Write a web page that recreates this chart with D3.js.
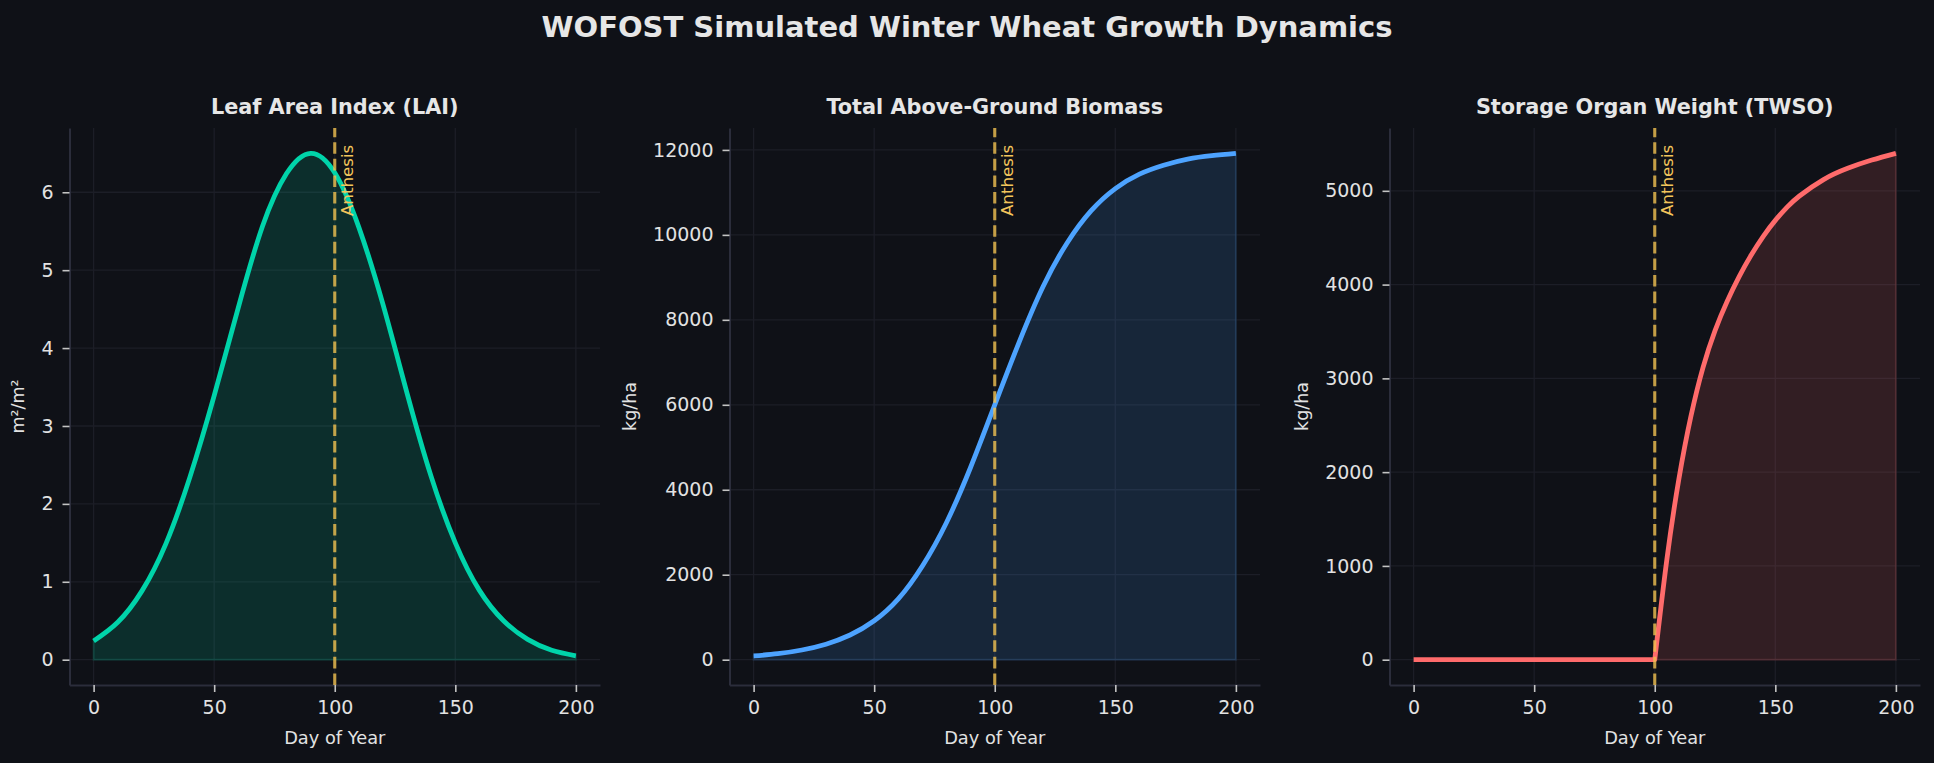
<!DOCTYPE html>
<html>
<head>
<meta charset="utf-8">
<script src="https://cdn.jsdelivr.net/npm/d3@7"></script>
<style>
  html, body { margin: 0; padding: 0; background: #0f1117; }
  svg { display: block; }
</style>
</head>
<body>
<svg id="chart" width="1934" height="763"></svg>
<script>
// ---------------- data ----------------
const days = [0, 10, 20, 30, 40, 50, 60, 70, 80, 90, 100, 110, 120, 130, 140, 150, 160, 170, 180, 190, 200];
const laiValues = [0.24, 0.48, 0.88, 1.49, 2.35, 3.39, 4.52, 5.56, 6.24, 6.50, 6.25, 5.55, 4.56, 3.42, 2.35, 1.50, 0.89, 0.50, 0.26, 0.12, 0.05];
const biomassValues = [88, 140, 228, 365, 580, 915, 1430, 2205, 3230, 4530, 6000, 7460, 8780, 9810, 10570, 11090, 11430, 11640, 11785, 11865, 11920];
const twsoDays = [0, 10, 20, 30, 40, 50, 60, 70, 80, 90, 100, 105, 110, 115, 120, 125, 130, 135, 140, 145, 150, 155, 160, 170, 180, 190, 200];
const twsoValues = [0, 0, 0, 0, 0, 0, 0, 0, 0, 0, 0, 1065, 1925, 2595, 3115, 3510, 3820, 4085, 4315, 4515, 4685, 4828, 4945, 5120, 5240, 5328, 5400];
const anthesisDay = 100;
const xTicks = [0, 50, 100, 150, 200];
const laiTicks = [0, 1, 2, 3, 4, 5, 6];
const biomassTicks = [0, 2000, 4000, 6000, 8000, 10000, 12000];
const twsoTicks = [0, 1000, 2000, 3000, 4000, 5000];
const panelTitles = ["Leaf Area Index (LAI)", "Total Above-Ground Biomass", "Storage Organ Weight (TWSO)"];
const yLabels = ["m\u00b2/m\u00b2", "kg/ha", "kg/ha"];
const suptitle = "WOFOST Simulated Winter Wheat Growth Dynamics";
const xLabel = "Day of Year";
const anthesisLabel = "Anthesis";
const lineColors = ["#00d4aa", "#4da3ff", "#ff6b6b"];

// ---------------- layout / style ----------------
const W = 1934, H = 763;
const BG = "#0f1117";
const FONT = "'DejaVu Sans', sans-serif";
const axTop = 128, axH = 557, axW = 530.5;
const axLefts = [69.5, 729.5, 1389.5];
const GRID = "#1c1e27", SPINE = "#2b2d3b", TICK = "#c4c4c4", TICKLABEL = "#e2e2e2", TITLE = "#e6e6e6";
const ANTH_LINE = "#f0c050", ANTH_TEXT = "#f2c55c";

const panels = [
  { x: days, y: laiValues, ticks: laiTicks, split: false },
  { x: days, y: biomassValues, ticks: biomassTicks, split: false },
  { x: twsoDays, y: twsoValues, ticks: twsoTicks, split: true }
];

const svg = d3.select("#chart");
svg.append("rect").attr("width", W).attr("height", H).attr("fill", BG);

svg.append("text")
  .attr("x", W / 2).attr("y", 37.3)
  .attr("text-anchor", "middle")
  .attr("font-family", FONT).attr("font-weight", "bold").attr("font-size", 29)
  .attr("fill", TITLE)
  .text(suptitle);

panels.forEach((p, i) => {
  const g = svg.append("g").attr("transform", `translate(${axLefts[i]},${axTop})`);
  const xMin = d3.min(p.x), xMax = d3.max(p.x);
  const xPad = (xMax - xMin) * 0.05;
  const x = d3.scaleLinear().domain([xMin - xPad, xMax + xPad]).range([0, axW]);
  const yLo = Math.min(0, d3.min(p.y)), yHi = d3.max(p.y);
  const yPad = (yHi - yLo) * 0.05;
  const y = d3.scaleLinear().domain([yLo - yPad, yHi + yPad]).range([axH, 0]);

  // grid
  g.append("g").selectAll("line").data(xTicks).join("line")
    .attr("x1", d => x(d)).attr("x2", d => x(d)).attr("y1", 0).attr("y2", axH)
    .attr("stroke", GRID).attr("stroke-width", 1.3);
  g.append("g").selectAll("line").data(p.ticks).join("line")
    .attr("y1", d => y(d)).attr("y2", d => y(d)).attr("x1", 0).attr("x2", axW)
    .attr("stroke", GRID).attr("stroke-width", 1.3);

  const pts = p.x.map((d, k) => ({ d, v: p.y[k] }));
  const color = lineColors[i];
  const curve = d3.curveNatural;

  let linePath, areaPath;
  if (p.split) {
    const startIdx = p.x.indexOf(anthesisDay);
    const flat = pts.slice(0, startIdx + 1);
    const grow = pts.slice(startIdx);
    const flatLine = d3.line().x(q => x(q.d)).y(q => y(q.v))(flat);
    const growLine = d3.line().x(q => x(q.d)).y(q => y(q.v)).curve(curve)(grow);
    linePath = flatLine + growLine.replace(/^M/, "L");
    areaPath = d3.area().x(q => x(q.d)).y0(y(0)).y1(q => y(q.v)).curve(curve)(grow);
  } else {
    linePath = d3.line().x(q => x(q.d)).y(q => y(q.v)).curve(curve)(pts);
    areaPath = d3.area().x(q => x(q.d)).y0(y(0)).y1(q => y(q.v)).curve(curve)(pts);
  }

  g.append("path").attr("d", areaPath)
    .attr("fill", color).attr("fill-opacity", 0.15)
    .attr("stroke", color).attr("stroke-opacity", 0.15).attr("stroke-width", 2);

  g.append("path").attr("d", linePath)
    .attr("fill", "none").attr("stroke", color).attr("stroke-width", 4.8)
    .attr("stroke-linejoin", "round").attr("stroke-linecap", "butt");

  // axes
  const xAxis = g.append("g").attr("transform", `translate(0,${axH})`)
    .call(d3.axisBottom(x).tickValues(xTicks).tickSize(7).tickSizeOuter(0).tickPadding(8.5).tickFormat(d3.format("d")));
  const yAxis = g.append("g")
    .call(d3.axisLeft(y).tickValues(p.ticks).tickSize(7).tickSizeOuter(0).tickPadding(9).tickFormat(d3.format("d")));
  [xAxis, yAxis].forEach(a => {
    a.select(".domain").attr("stroke", SPINE).attr("stroke-width", 2);
    a.selectAll(".tick line").attr("stroke", TICK).attr("stroke-width", 1.6);
    a.selectAll(".tick text").attr("fill", TICKLABEL).attr("font-family", FONT).attr("font-size", 19);
    a.attr("font-family", null).attr("font-size", null);
  });

  // anthesis marker
  g.append("line")
    .attr("x1", x(anthesisDay)).attr("x2", x(anthesisDay))
    .attr("y1", axH).attr("y2", 0)
    .attr("stroke", ANTH_LINE).attr("stroke-opacity", 0.8)
    .attr("stroke-width", 3.1).attr("stroke-dasharray", "11.6,5");
  g.append("text")
    .attr("transform", `translate(${x(anthesisDay) + 18},${axH * 0.03}) rotate(-90)`)
    .attr("text-anchor", "end")
    .attr("font-family", FONT).attr("font-size", 16.7)
    .attr("fill", ANTH_TEXT)
    .text(anthesisLabel);

  // titles and labels
  g.append("text")
    .attr("x", axW / 2).attr("y", -14.5)
    .attr("text-anchor", "middle")
    .attr("font-family", FONT).attr("font-weight", "bold").attr("font-size", 20.8)
    .attr("fill", TITLE)
    .text(panelTitles[i]);

  g.append("text")
    .attr("x", axW / 2).attr("y", axH + 59)
    .attr("text-anchor", "middle")
    .attr("font-family", FONT).attr("font-size", 17.8)
    .attr("fill", TICKLABEL)
    .text(xLabel);

  let maxW = 0;
  yAxis.selectAll(".tick text").each(function () { maxW = Math.max(maxW, this.getBBox().width); });
  g.append("text")
    .attr("transform", `translate(${-(7 + 9 + maxW + 17)},${axH / 2}) rotate(-90)`)
    .attr("text-anchor", "middle")
    .attr("font-family", FONT).attr("font-size", 17.5)
    .attr("fill", TICKLABEL)
    .text(yLabels[i]);
});
</script>
</body>
</html>
